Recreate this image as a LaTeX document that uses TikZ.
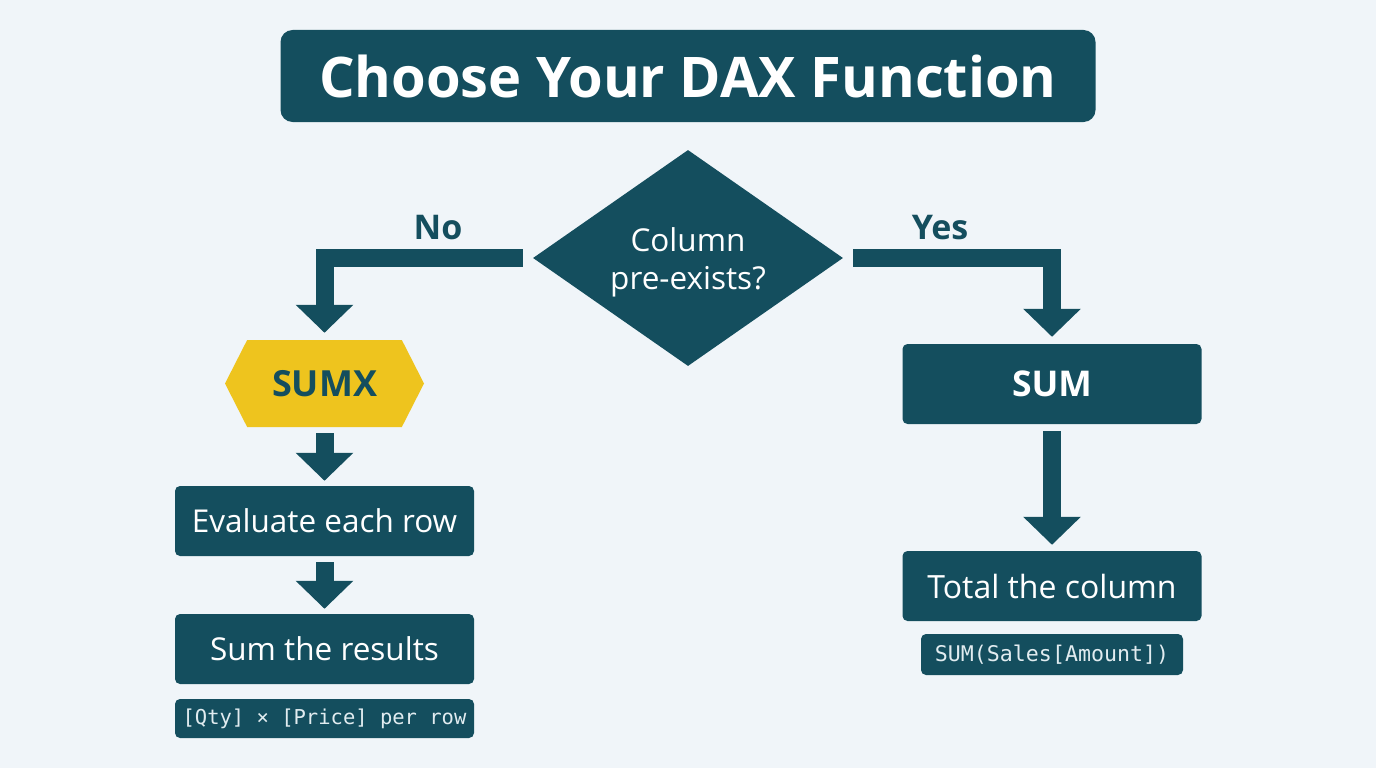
\documentclass[tikz,border=0pt]{standalone}
\usepackage{fontspec}
\setmainfont{Open Sans}
\setmonofont{DejaVu Sans Mono}
\usetikzlibrary{shapes.geometric,shapes.symbols,arrows.meta}
\definecolor{dteal}{RGB}{20,78,94}
\definecolor{sunyel}{RGB}{238,196,30}
\definecolor{bgc}{RGB}{240,245,249}
\definecolor{codefg}{RGB}{225,236,240}
\tikzset{
  box/.style={fill=dteal, text=white, rounded corners=5pt, minimum width=299pt, minimum height=70pt, inner sep=0pt, font=\fontsize{31.5}{36}\selectfont},
  codebox/.style={fill=dteal, text=codefg, rounded corners=5pt, inner sep=0pt, font=\ttfamily\fontsize{20.5}{24}\selectfont},
  conn/.style={draw=dteal, line width=18pt, -{Triangle[width=56pt,length=28pt]}},
  lbl/.style={text=dteal, font=\bfseries\fontsize{34}{40}\selectfont},
}
\begin{document}
\begin{tikzpicture}[x=1pt,y=-1pt]
\fill[bgc] (0,0) rectangle (1376,768);
\useasboundingbox (0,0) rectangle (1376,768);
\node[fill=dteal, text=white, rounded corners=12pt, minimum width=815pt, minimum height=92pt, inner sep=0pt, font=\bfseries\fontsize{56}{64}\selectfont] (title) at (688,76) {Choose Your DAX Function};
\node[diamond, fill=dteal, minimum width=310pt, minimum height=216pt, inner sep=0pt,
  label={[text=white, align=center, font=\fontsize{31.5}{38}\selectfont, yshift=-4pt]center:Column\\pre-exists?}] (dia) at (688,258) {};
\node[signal, signal to=west and east, signal pointer angle=126, fill=sunyel, text=dteal, minimum width=199pt, minimum height=87pt, inner sep=0pt, font=\bfseries\fontsize{36}{40}\selectfont] (sumx) at (324.5,383.5) {SUMX};
\node[box] (ev) at (324.5,521) {Evaluate each row};
\node[box] (sr) at (324.5,649) {Sum the results};
\node[codebox, minimum width=299pt, minimum height=39pt] (c1) at (324.5,718.5) {[Qty] × [Price] per row};
\node[box, minimum height=80pt, font=\bfseries\fontsize{35.5}{40}\selectfont] (sum) at (1052,384) {SUM};
\node[box, font=\fontsize{32}{36}\selectfont] (tot) at (1052,586) {Total the column};
\node[codebox, minimum width=262pt, minimum height=41pt, font=\ttfamily\fontsize{21.6}{25}\selectfont] (c2) at (1052,654.5) {SUM(Sales[Amount])};
\node[lbl] (no) at (438,228) {No};
\node[lbl] (yes) at (940,228) {Yes};
\draw[conn] ([xshift=-10pt]dia.west) -| ([yshift=7pt]sumx.north);
\draw[conn] ([xshift=10pt]dia.east) -| ([yshift=7pt]sum.north);
\draw[conn] ([yshift=-6pt]sumx.south) -- ([yshift=5pt]ev.north);
\draw[conn] ([yshift=-6pt]ev.south) -- ([yshift=5pt]sr.north);
\draw[conn] ([yshift=-7pt]sum.south) -- ([yshift=6pt]tot.north);
\end{tikzpicture}
\end{document}
